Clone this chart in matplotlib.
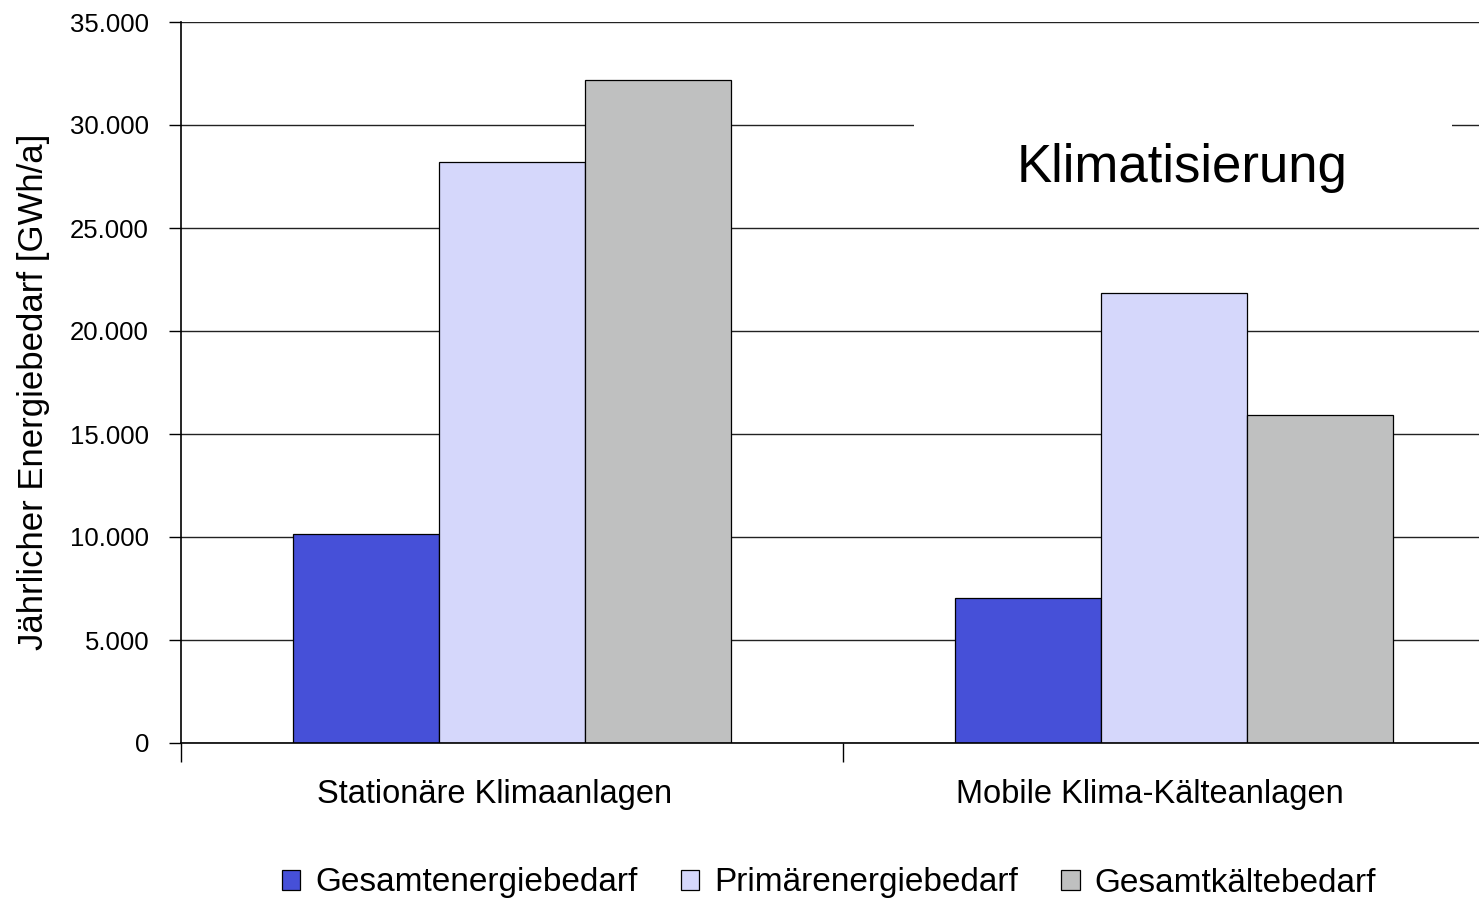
import matplotlib
matplotlib.use("Agg")
import matplotlib.pyplot as plt
from matplotlib.patches import Rectangle
from matplotlib.ticker import FuncFormatter, FixedLocator
from matplotlib.transforms import ScaledTranslation
import numpy as np

plt.rcParams["font.family"] = ["Liberation Sans", "DejaVu Sans"]

categories = ["Stationäre Klimaanlagen", "Mobile Klima-Kälteanlagen"]
series_names = ["Gesamtenergiebedarf", "Primärenergiebedarf", "Gesamtkältebedarf"]
gesamtenergie = [10150, 7050]
primaerenergie = [28200, 21850]
gesamtkaelte = [32200, 15900]
series_colors = ["#4650D8", "#D5D7FB", "#BFC0C0"]
y_ticks = [0, 5000, 10000, 15000, 20000, 25000, 30000, 35000]

W, H = 1479, 901
fig = plt.figure(figsize=(W / 100, H / 100), dpi=100)
ax = fig.add_axes([181 / W, (H - 743) / H, 1324 / W, 721 / H])

x = np.arange(len(categories))
width = 0.2205
for i, (vals, name, col) in enumerate(zip([gesamtenergie, primaerenergie, gesamtkaelte],
                                          series_names, series_colors)):
    ax.bar(x + (i - 1) * width, vals, width, color=col, edgecolor="black",
           linewidth=0.9, label=name, zorder=2)

ax.set_xlim(-0.5, 1.5)
ax.set_ylim(0, 35000)
ax.set_yticks(y_ticks)
ax.yaxis.set_major_formatter(FuncFormatter(lambda v, p: f"{v:,.0f}".replace(",", ".")))
ax.tick_params(axis="y", length=9, width=1, labelsize=18.5, pad=14, direction="out")

ax.set_xticks(x)
ax.set_xticklabels(categories, fontsize=23.5)
ax.tick_params(axis="x", which="major", length=0, pad=26)
# category labels sit a little left of the group centres
for lbl, dx in zip(ax.get_xticklabels(), [-0.17, -0.24]):
    lbl.set_transform(lbl.get_transform() + ScaledTranslation(dx, 0, fig.dpi_scale_trans))
ax.xaxis.set_minor_locator(FixedLocator([-0.5, 0.5, 1.5]))
ax.tick_params(axis="x", which="minor", length=14, width=1, direction="out")

ax.yaxis.grid(True, color="#222222", linewidth=1.0, zorder=0)
ax.set_axisbelow(True)
for s in ["top", "right"]:
    ax.spines[s].set_visible(False)
ax.spines["left"].set_linewidth(1.2)
ax.spines["bottom"].set_linewidth(1.2)

ax.set_ylabel("Jährlicher Energiebedarf [GWh/a]", fontsize=25)
ax.yaxis.set_label_coords(-131 / 1324, 0.4875)

# white panel behind the heading, breaking the gridline
ax.add_patch(Rectangle((0.5536, 0.74), 0.4064, 0.14, transform=ax.transAxes,
                       facecolor="white", edgecolor="none", zorder=1))
ax.text(1182 / W, 1 - 168 / H, "Klimatisierung", transform=fig.transFigure,
        fontsize=38, ha="center", va="center", zorder=3)

leg = fig.legend(loc="center", bbox_to_anchor=(829 / W, 1 - 883 / H), ncol=3,
                 frameon=False, fontsize=24, handlelength=0.55, handleheight=0.55,
                 handletextpad=0.45, columnspacing=1.3)

fig.savefig("out.png", dpi=100)
